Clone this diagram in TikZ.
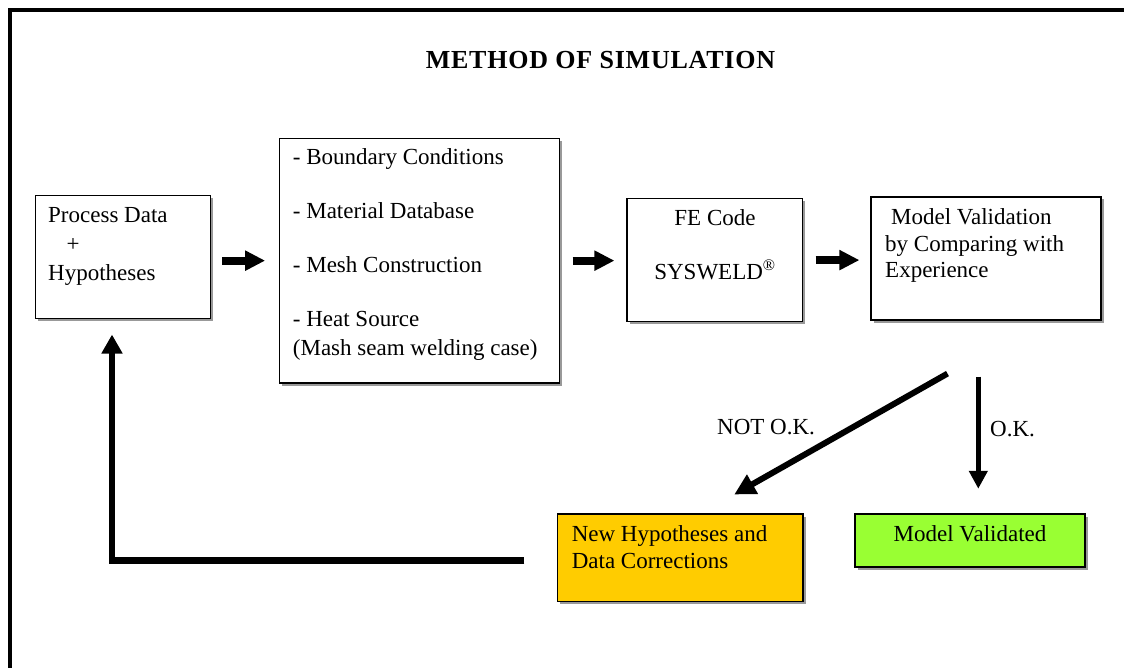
\documentclass[tikz,border=0pt]{standalone}
\usepackage{fontspec}
\setmainfont{Liberation Serif}
\usetikzlibrary{arrows.meta,shadows}
\definecolor{boxorange}{RGB}{255,204,0}
\definecolor{boxgreen}{RGB}{153,255,51}
\begin{document}
\begin{tikzpicture}[x=1pt,y=-1pt,
  box/.style={draw, line width=1.1pt, fill=white, inner sep=0pt,
    drop shadow={shadow xshift=2.5pt, shadow yshift=-2.5pt, fill=black!40, opacity=1}},
  txt/.style={inner sep=0pt, anchor=base west, font=\fontsize{23}{27}\selectfont},
  fat/.style={line width=8pt, -{Triangle[length=20pt,width=19pt]}},
  diag/.style={line width=6pt, -{Triangle[length=21pt,width=21pt]}},
  okarrow/.style={line width=4.5pt, -{Triangle[length=18pt,width=18pt]}},
  back/.style={line width=6.5pt, -{Triangle[length=19pt,width=20pt]}}
]
\useasboundingbox (0,0) rectangle (1124,668);

% frame (top and left edges)
\draw[line width=4pt] (9.5,668) -- (9.5,10.5) -- (1124,10.5);

% title
\node[anchor=base, inner sep=0pt, font=\bfseries\fontsize{26}{30}\selectfont\addfontfeature{LetterSpace=3}] (title) at (600.5,69) {METHOD OF SIMULATION};

% boxes
\node[box, minimum width=175.2pt, minimum height=122.8pt] (b1) at (123.1,256.9) {};
\node[box, minimum width=280pt, minimum height=244.7pt] (b2) at (419.3,260.65) {};
\node[box, minimum width=175.7pt, minimum height=123.2pt] (b3) at (714.85,260.1) {};
\node[box, minimum width=230pt, minimum height=123pt] (b4) at (986,258.5) {};
\node[box, fill=boxorange, minimum width=245.5pt, minimum height=87.5pt] (b5) at (680.25,557.75) {};
\node[box, fill=boxgreen, minimum width=230pt, minimum height=53pt] (b6) at (970,540.5) {};

% texts
\node[txt] (t1) at (48,222.7) {\parbox[t]{160pt}{\fontsize{23}{29}\selectfont Process Data\\\hspace*{18.5pt}+\\Hypotheses}};
\node[txt] (t2) at (292.7,165) {\parbox[t]{260pt}{\fontsize{23}{27}\selectfont - Boundary Conditions\\[27pt]- Material Database\\[27pt]- Mesh Construction\\[27pt]- Heat Source\\[2pt](Mash seam welding case)}};
\node[txt, anchor=base] (t3) at (715,226) {\parbox[t]{170pt}{\centering\fontsize{23}{27}\selectfont FE Code\\[27pt]SYSWELD\textsuperscript{®}}};
\node[txt] (t4) at (885,225) {\parbox[t]{210pt}{\fontsize{23}{26.5}\selectfont\hspace*{6pt}Model Validation\\by Comparing with\\Experience}};
\node[txt] (t5) at (571.6,541.7) {\parbox[t]{230pt}{\fontsize{23}{26.3}\selectfont New Hypotheses and\\Data Corrections}};
\node[txt, anchor=base] (t6) at (970,541.7) {Model Validated};

% labels
\node[txt] (nok) at (717,434) {NOT O.K.};
\node[txt] (ok) at (990,436) {O.K.};

% connectors
\draw[fat, shorten <=11pt, shorten >=13.6pt] (b1.east |- b2.west) -- (b2.west);
\draw[fat, shorten <=12.7pt, shorten >=12pt] (b2.east) -- (b2.east -| b3.west);
\draw[fat, shorten <=12.3pt, shorten >=11pt] (b3.east) -- (b3.east -| b4.west);
\draw[diag, shorten <=107.5pt, shorten >=38.4pt] ([xshift=55pt]b4.south) -- ([xshift=20.6pt]b5.north);
\draw[okarrow, shorten <=56pt, shorten >=24.7pt] ([xshift=-7.7pt]b4.south) -- ([xshift=-7.7pt]b4.south |- b6.north);
\draw[back, shorten <=32.5pt, shorten >=15.7pt] ([yshift=-2.95pt]b5.west) -| ([xshift=-11.1pt]b1.south);
\end{tikzpicture}
\end{document}
